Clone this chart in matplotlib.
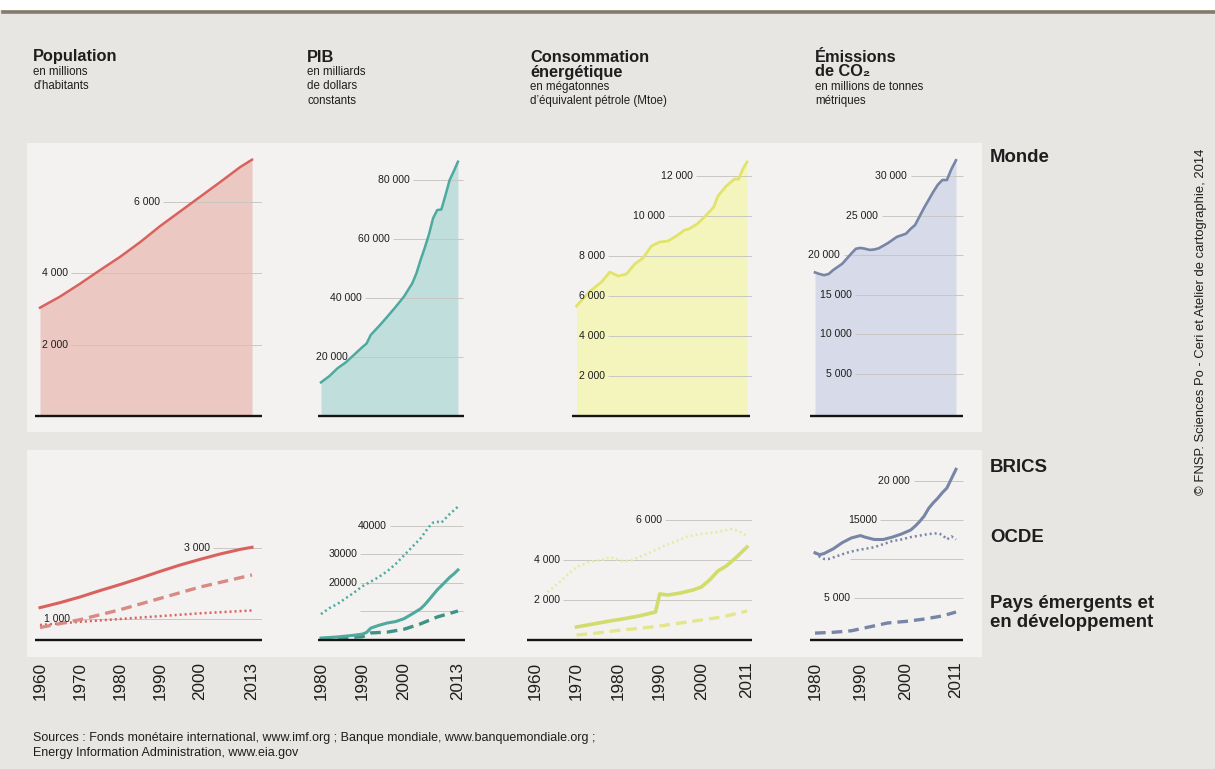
import matplotlib
matplotlib.use('Agg')
import matplotlib.pyplot as plt
from matplotlib.patches import Rectangle
from matplotlib.lines import Line2D

plt.rcParams['font.family'] = ['Liberation Sans', 'DejaVu Sans']

# ---------------- DATA ----------------
# Population (millions)
pop_years = [1960, 1965, 1970, 1975, 1980, 1985, 1990, 1995, 2000, 2005, 2010, 2013]
pop_world = [3030, 3340, 3700, 4080, 4450, 4860, 5310, 5720, 6130, 6540, 6960, 7170]
pop_brics_years = [1960, 1965, 1970, 1975, 1980, 1985, 1990, 1995, 2000, 2005, 2010, 2013]
pop_brics = [1320, 1460, 1620, 1800, 1970, 2150, 2340, 2520, 2680, 2830, 2960, 3020]
pop_ocde_years = [1960, 1970, 1980, 1990, 2000, 2013]
pop_ocde = [830, 920, 1000, 1080, 1160, 1240]
pop_emerg_years = [1960, 1970, 1980, 1990, 2000, 2013]
pop_emerg = [760, 980, 1260, 1580, 1900, 2240]

# PIB (milliards de dollars)
pib_years = [1980, 1982, 1984, 1986, 1988, 1990, 1991, 1992, 1994, 1996, 1998, 2000,
             2002, 2003, 2004, 2005, 2006, 2007, 2008, 2009, 2010, 2011, 2012, 2013]
pib_world = [11400, 13500, 16200, 18200, 20800, 23400, 24600, 27500, 30500, 33700, 37000, 40500,
             45000, 48400, 52900, 57000, 61500, 67000, 69800, 70000, 74900, 80000, 83000, 86200]
pib_ocde_years = [1980, 1982, 1984, 1986, 1988, 1990, 1992, 1994, 1996, 1998, 2000, 2002,
                  2004, 2006, 2007, 2008, 2009, 2010, 2011, 2012, 2013]
pib_ocde = [8900, 11000, 12500, 14500, 16500, 18700, 20300, 22000, 24000, 26500, 29500, 32500,
            35500, 39500, 41000, 41300, 41000, 42500, 44000, 45300, 46600]
pib_brics_years = [1980, 1982, 1984, 1986, 1988, 1990, 1991, 1992, 1994, 1996, 1998, 2000,
                   2002, 2004, 2005, 2006, 2008, 2010, 2011, 2012, 2013]
pib_brics = [500, 700, 900, 1200, 1500, 1900, 2500, 4000, 5000, 5800, 6300, 7300,
             9000, 10800, 12200, 13900, 17400, 20300, 21800, 23000, 24400]
pib_emerg_years = [1980, 1985, 1990, 1992, 1996, 2000, 2004, 2008, 2013]
pib_emerg = [300, 600, 1000, 2300, 2600, 3600, 5500, 7900, 10000]

# Consommation énergétique (Mtoe)
ener_years = [1970, 1973, 1976, 1978, 1980, 1982, 1984, 1986, 1988, 1990, 1992, 1994,
              1996, 1997, 1999, 2001, 2003, 2004, 2006, 2008, 2009, 2010, 2011]
ener_world = [5500, 6200, 6700, 7200, 7000, 7100, 7600, 7900, 8500, 8700, 8750, 9000,
              9300, 9350, 9600, 10000, 10450, 11000, 11500, 11850, 11850, 12350, 12700]
ener_ocde_years = [1963, 1966, 1968, 1970, 1973, 1976, 1978, 1981, 1983, 1985, 1988, 1991,
                   1994, 1997, 2000, 2004, 2007, 2009, 2011]
ener_ocde = [2400, 2900, 3300, 3650, 3900, 4000, 4150, 3950, 3950, 4150, 4400, 4700,
             4950, 5200, 5300, 5400, 5550, 5450, 5200]
ener_brics_years = [1970, 1974, 1978, 1981, 1985, 1988, 1989, 1990, 1992, 1995, 1998, 2000,
                    2002, 2004, 2006, 2008, 2010, 2011]
ener_brics = [650, 800, 950, 1050, 1200, 1350, 1400, 2300, 2250, 2350, 2500, 2650,
              3000, 3450, 3700, 4050, 4450, 4650]
ener_emerg_years = [1970, 1975, 1980, 1985, 1990, 1995, 2000, 2005, 2011]
ener_emerg = [250, 350, 480, 580, 700, 850, 1000, 1150, 1450]

# Émissions de CO2 (millions de tonnes)
co2_years = [1980, 1981, 1982, 1983, 1984, 1986, 1988, 1989, 1990, 1991, 1992, 1993, 1994,
             1996, 1997, 1998, 2000, 2001, 2002, 2003, 2004, 2005, 2006, 2007, 2008, 2009,
             2010, 2011]
co2_world = [17800, 17600, 17450, 17600, 18100, 18900, 20200, 20800, 20900, 20800, 20650, 20700,
             20850, 21500, 21900, 22300, 22700, 23300, 23800, 24900, 26000, 27000, 28000, 28900,
             29500, 29500, 30900, 32000]
co2_brics_years = [1980, 1981, 1982, 1984, 1986, 1988, 1990, 1991, 1993, 1995, 1997, 1999,
                   2001, 2002, 2003, 2004, 2005, 2006, 2007, 2008, 2009, 2010, 2011]
co2_brics = [10800, 10550, 10700, 11300, 12100, 12700, 13000, 12800, 12500, 12500, 12800, 13200,
             13700, 14200, 14800, 15500, 16500, 17200, 17800, 18500, 19100, 20300, 21500]
co2_ocde_years = [1980, 1981, 1982, 1983, 1985, 1987, 1989, 1991, 1993, 1995, 1997, 1999,
                  2001, 2003, 2005, 2007, 2008, 2009, 2010, 2011]
co2_ocde = [10800, 10300, 10000, 10000, 10400, 10800, 11100, 11300, 11500, 11900, 12300, 12500,
            12800, 13000, 13200, 13300, 13100, 12500, 12900, 12500]
co2_emerg_years = [1980, 1984, 1988, 1992, 1996, 2000, 2004, 2008, 2011]
co2_emerg = [500, 600, 800, 1300, 1800, 2000, 2300, 2700, 3200]

# Tick labels (years on x axes)
pop_ticks = [1960, 1970, 1980, 1990, 2000, 2013]
pib_ticks = [1980, 1990, 2000, 2013]
ener_ticks = [1960, 1970, 1980, 1990, 2000, 2011]
co2_ticks = [1980, 1990, 2000, 2011]

# Text
headers = [
    ("Population", None, "en millions\nd’habitants"),
    ("PIB", None, "en milliards\nde dollars\nconstants"),
    ("Consommation", "énergétique", "en mégatonnes\nd’équivalent pétrole (Mtoe)"),
    ("Émissions", "de CO₂", "en millions de tonnes\nmétriques"),
]
row_labels = ["Monde", "BRICS", "OCDE", "Pays émergents et\nen développement"]

# ---------------- LAYOUT ----------------
W, H = 1215, 769
fig = plt.figure(figsize=(W / 100, H / 100), dpi=100)
BG = '#e8e6e2'
PANEL = '#f3f2f0'
fig.patch.set_facecolor(BG)


def frect(x0, y0, x1, y1, color):
    fig.add_artist(Rectangle((x0 / W, 1 - y1 / H), (x1 - x0) / W, (y1 - y0) / H,
                             transform=fig.transFigure, facecolor=color,
                             edgecolor='none', zorder=-5))


# white strip + rule at top
frect(0, 0, W, 10, 'white')
fig.add_artist(Line2D([3 / W, 1], [1 - 11.5 / H, 1 - 11.5 / H], transform=fig.transFigure,
                      color='#857b6c', lw=2.6, zorder=-4))
# inner panels
frect(27, 143, 982, 432, PANEL)
frect(27, 450, 982, 657, PANEL)


def make_ax(x0, x1, y0, y1, xlim, ylim):
    ax = fig.add_axes([x0 / W, 1 - y1 / H, (x1 - x0) / W, (y1 - y0) / H])
    ax.set_facecolor('none')
    ax.set_xlim(*xlim)
    ax.set_ylim(*ylim)
    for s in ax.spines.values():
        s.set_visible(False)
    ax.set_yticks([])
    ax.set_xticks([])
    return ax


GRID = '#c9c7c3'
TXT = '#1e1e1e'


def ticklabels(ax, items, xend):
    for val, xr, lab in items:
        if lab:
            ax.text(xr, val, lab, ha='right', va='center', fontsize=7.6, color=TXT, zorder=6)
            xs = xr + 0.8
        else:
            xs = xr
        ax.plot([xs, xend], [val, val], color=GRID, lw=0.7, zorder=4, solid_capstyle='butt')


def baseline(ax, x0, x1, y):
    ax.plot([x0, x1], [y, y], color='#141414', lw=1.7, zorder=7, clip_on=False,
            solid_capstyle='butt')


def year_axis(ax, ticks):
    ax.set_xticks(ticks)
    ax.set_xticklabels([str(t) for t in ticks], rotation=90, fontsize=12.3, color=TXT)
    ax.tick_params(axis='x', length=0, pad=15.5)


TOP0, TOP1 = 150, 416
BOT0, BOT1 = 455, 640

# column styles
pop_line, pop_fill = '#d9625f', '#ebc8c1'
pib_line, pib_fill = '#4ea99f', '#c0dedb'
ener_line, ener_fill = '#e2e36a', '#f4f4bd'
co2_line, co2_fill = '#7885a6', '#d7dbe9'
ener_bline = '#d2dc6c'

DOT = (0, (0.8, 1.2))
DASH = (0, (3.2, 1.8))

# ---- Column 1 : Population ----
xl = (1958.75, 2015.5)
ax = make_ax(35, 262, TOP0, TOP1, xl, (0, 7441))
ax.fill_between(pop_years, pop_world, 0, color=pop_fill, lw=0, zorder=2)
ax.plot(pop_years, pop_world, color=pop_line, lw=1.8, zorder=5)
ticklabels(ax, [(2000, 1967, '2 000'), (4000, 1967, '4 000'), (6000, 1990, '6 000')], xl[1])
baseline(ax, xl[0], xl[1], 0)

ax = make_ax(35, 262, BOT0, BOT1, xl, (408, 5620))
ticklabels(ax, [(1000, 1967.5, '1 000'), (3000, 2002.5, '3 000')], xl[1])
ax.plot(pop_ocde_years, pop_ocde, color=pop_line, lw=1.8, ls=DOT, zorder=5)
ax.plot(pop_emerg_years, pop_emerg, color='#d98a84', lw=2.4, ls=DASH, zorder=5)
ax.plot(pop_brics_years, pop_brics, color=pop_line, lw=2.2, zorder=5)
baseline(ax, xl[0], xl[1], 408)
year_axis(ax, pop_ticks)

# ---- Column 2 : PIB ----
xl = (1978.8, 2014.7)
ax = make_ax(316, 465, TOP0, TOP1, xl, (0, 90170))
ax.fill_between(pib_years, pib_world, 0, color=pib_fill, lw=0, zorder=2)
ax.plot(pib_years, pib_world, color=pib_line, lw=1.8, zorder=5)
ticklabels(ax, [(20000, 1986.5, '20 000'), (40000, 1989.9, '40 000'),
                (60000, 1996.6, '60 000'), (80000, 2001.4, '80 000')], 2014.2)
baseline(ax, 1979.3, 2014.4, 0)

ax = make_ax(316, 465, BOT0, BOT1, xl, (-175, 64740))
ticklabels(ax, [(10000, 1989.4, None), (20000, 1988.7, '20000'), (30000, 1988.7, '30000'),
                (40000, 1995.9, '40000')], 2014.2)
ax.plot(pib_ocde_years, pib_ocde, color=pib_line, lw=1.8, ls=DOT, zorder=5)
ax.plot(pib_emerg_years, pib_emerg, color='#3f9286', lw=2.4, ls=DASH, zorder=5)
ax.plot(pib_brics_years, pib_brics, color=pib_line, lw=2.2, zorder=5)
baseline(ax, 1979.3, 2014.7, -175)
year_axis(ax, pib_ticks)

# ---- Column 3 : Énergie ----
xl = (1958.08, 2012.2)
ax = make_ax(527, 752, TOP0, TOP1, xl, (0, 13300))
ax.fill_between(ener_years, ener_world, 0, color=ener_fill, lw=0, zorder=2)
ax.plot(ener_years, ener_world, color=ener_line, lw=2.0, zorder=5)
ticklabels(ax, [(2000, 1976.8, '2 000'), (4000, 1976.8, '4 000'), (6000, 1976.8, '6 000'),
                (8000, 1976.8, '8 000'), (10000, 1991.3, '10 000'), (12000, 1998, '12 000')],
           xl[1])
baseline(ax, 1968.9, 2011.7, 0)

ax = make_ax(527, 752, BOT0, BOT1, xl, (0, 9250))
ticklabels(ax, [(2000, 1966, '2 000'), (4000, 1966, '4 000'), (6000, 1990.5, '6 000')], xl[1])
ax.plot(ener_ocde_years, ener_ocde, color='#e8eaa0', lw=1.8, ls=DOT, zorder=5)
ax.plot(ener_emerg_years, ener_emerg, color='#e4e68a', lw=2.4, ls=DASH, zorder=5)
ax.plot(ener_brics_years, ener_brics, color=ener_bline, lw=2.6, zorder=5)
baseline(ax, xl[0], xl[1], 0)
year_axis(ax, ener_ticks)

# ---- Column 4 : CO2 ----
xl = (1978.9, 2012.76)
ax = make_ax(810, 964, TOP0, TOP1, xl, (-380, 33300))
ax.fill_between(co2_years, co2_world, -380, color=co2_fill, lw=0, zorder=2)
ax.plot(co2_years, co2_world, color=co2_line, lw=1.9, zorder=5)
ticklabels(ax, [(5000, 1988.1, '5 000'), (10000, 1988.1, '10 000'), (15000, 1988.1, '15 000'),
                (20000, 1985.5, '20 000'), (25000, 1993.9, '25 000'), (30000, 2000.2, '30 000')],
           2012.5)
baseline(ax, xl[0], 2012.5, -380)

ax = make_ax(810, 964, BOT0, BOT1, xl, (-385, 23330))
ticklabels(ax, [(5000, 1987.7, '5 000'), (10000, 1987.7, None), (15000, 1993.6, '15000'),
                (20000, 2000.9, '20 000')], 2012.5)
ax.plot(co2_ocde_years, co2_ocde, color=co2_line, lw=1.8, ls=DOT, zorder=5)
ax.plot(co2_emerg_years, co2_emerg, color=co2_line, lw=2.4, ls=DASH, zorder=5)
ax.plot(co2_brics_years, co2_brics, color=co2_line, lw=2.2, zorder=5)
baseline(ax, xl[0], 2012.5, -385)
year_axis(ax, co2_ticks)

# ---------------- TEXT ----------------
def ftext(px, py, s, **kw):
    fig.text(px / W, 1 - py / H, s, **kw)


head_x = [33, 307, 530, 815]
for (t1, t2, sub), hx in zip(headers, head_x):
    ftext(hx, 57, t1, fontsize=11.8, fontweight='bold', color=TXT, va='center')
    y = 72
    if t2:
        ftext(hx, 72, t2, fontsize=11.8, fontweight='bold', color=TXT, va='center')
        y = 87
    for i, line in enumerate(sub.split('\n')):
        ftext(hx, y + i * 14.3, line, fontsize=8.3, color=TXT, va='center')

RL = 13.4
ftext(990, 157, row_labels[0], fontsize=RL, fontweight='bold', color=TXT, va='center')
ftext(990, 467, row_labels[1], fontsize=RL, fontweight='bold', color=TXT, va='center')
ftext(990, 537, row_labels[2], fontsize=RL, fontweight='bold', color=TXT, va='center')
for i, line in enumerate(row_labels[3].split('\n')):
    ftext(990, 603 + i * 19.5, line, fontsize=RL, fontweight='bold', color=TXT, va='center')

ftext(1201, 322, "© FNSP. Sciences Po - Ceri et Atelier de cartographie, 2014",
      rotation=90, fontsize=9.4, color=TXT, ha='center', va='center')

ftext(33, 738, "Sources : Fonds monétaire international, www.imf.org ; Banque mondiale, "
      "www.banquemondiale.org ;", fontsize=9.0, color=TXT, va='center')
ftext(33, 753, "Energy Information Administration, www.eia.gov", fontsize=9.0, color=TXT,
      va='center')

fig.savefig('out.png', dpi=100, facecolor=fig.get_facecolor())
